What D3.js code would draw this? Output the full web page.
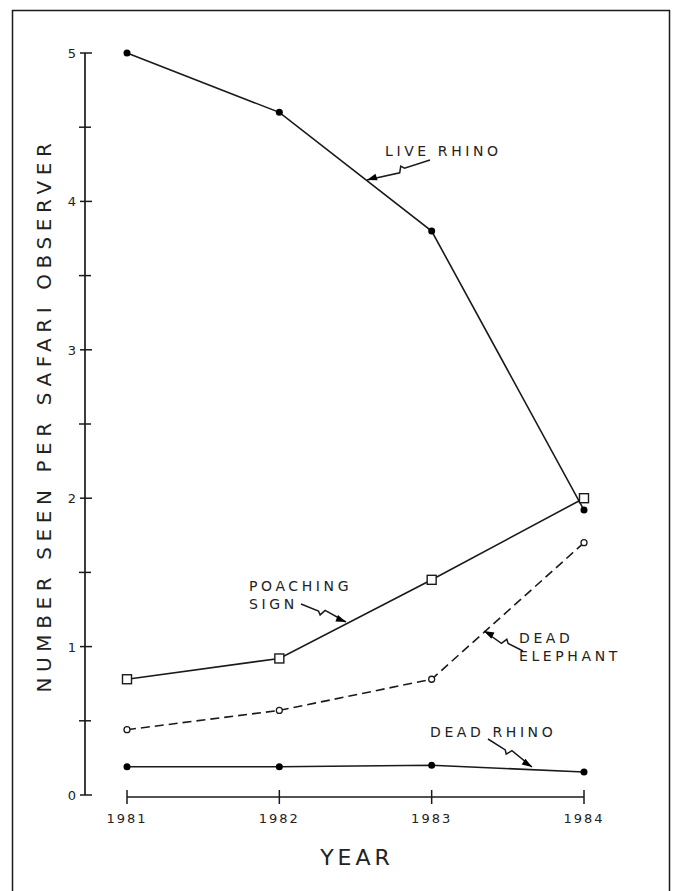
<!DOCTYPE html>
<html><head><meta charset="utf-8">
<script src="https://cdn.jsdelivr.net/npm/d3@7"></script>
<style>html,body{margin:0;padding:0;background:#fff;}svg{display:block;}</style>
</head><body>
<script>
const years = [1981, 1982, 1983, 1984];
const liveRhino = [5.0, 4.60, 3.80, 1.92];
const poachingSign = [0.78, 0.92, 1.45, 2.0];
const deadElephant = [0.44, 0.57, 0.78, 1.70];
const deadRhino = [0.19, 0.19, 0.20, 0.155];
const yMajorTicks = [0, 1, 2, 3, 4, 5];
const yMinorTicks = [0.5, 1.5, 2.5, 3.5, 4.5];

const W = 675, H = 891;
const ink = "#1a1a1a";
const svg = d3.select("body").append("svg").attr("width", W).attr("height", H);
svg.append("rect").attr("width", W).attr("height", H).attr("fill", "#fff");
svg.append("rect").attr("x", 12.5).attr("y", 10.5).attr("width", 657).attr("height", 900)
  .attr("fill", "none").attr("stroke", ink).attr("stroke-width", 1.5);

const x = d3.scaleLinear().domain([1981, 1984]).range([127, 584]);
const y = d3.scaleLinear().domain([0, 5]).range([795, 53]);
const font = "'DejaVu Sans', sans-serif";
const txt = "#222";

// Y axis
const yAxisX = 85;
svg.append("line").attr("x1", yAxisX).attr("x2", yAxisX).attr("y1", y(0)).attr("y2", y(5))
  .attr("stroke", ink).attr("stroke-width", 1.7);
svg.selectAll(".ymaj").data(yMajorTicks).enter().append("line")
  .attr("x1", yAxisX - 5).attr("x2", yAxisX + 7).attr("y1", d => y(d)).attr("y2", d => y(d))
  .attr("stroke", ink).attr("stroke-width", 1.5);
svg.selectAll(".ymin").data(yMinorTicks).enter().append("line")
  .attr("x1", yAxisX - 6).attr("x2", yAxisX + 6).attr("y1", d => y(d)).attr("y2", d => y(d))
  .attr("stroke", ink).attr("stroke-width", 1.5);
svg.selectAll(".ylab").data(yMajorTicks).enter().append("text")
  .attr("x", yAxisX - 9).attr("y", d => y(d) + 5).attr("text-anchor", "end")
  .attr("font-family", font).attr("font-size", 13).attr("fill", txt).text(d => d);

// X axis
const xAxisY = 797;
svg.append("line").attr("x1", x(1981)).attr("x2", x(1984)).attr("y1", xAxisY).attr("y2", xAxisY)
  .attr("stroke", ink).attr("stroke-width", 1.7);
svg.selectAll(".xt").data(years).enter().append("line")
  .attr("x1", d => x(d)).attr("x2", d => x(d)).attr("y1", xAxisY - 7).attr("y2", xAxisY + 7)
  .attr("stroke", ink).attr("stroke-width", 1.5);
svg.selectAll(".xl").data(years).enter().append("text")
  .attr("x", d => x(d)).attr("y", 823).attr("text-anchor", "middle")
  .attr("font-family", font).attr("font-size", 13).attr("letter-spacing", 2).attr("fill", txt).text(d => d);

// Titles
svg.append("text").attr("x", 357).attr("y", 865).attr("text-anchor", "middle")
  .attr("font-family", font).attr("font-size", 22).attr("letter-spacing", 4).attr("fill", txt).text("YEAR");
svg.append("text").attr("transform", "translate(51,415) rotate(-90)").attr("text-anchor", "middle")
  .attr("font-family", font).attr("font-size", 20).attr("letter-spacing", 5.6).attr("fill", txt)
  .text("NUMBER SEEN PER SAFARI OBSERVER");

// Series
const line = d3.line().x(d => x(d[0])).y(d => y(d[1]));
function series(vals, dash) {
  const pts = years.map((yr, i) => [yr, vals[i]]);
  svg.append("path").datum(pts).attr("d", line).attr("fill", "none")
    .attr("stroke", ink).attr("stroke-width", 1.6).attr("stroke-dasharray", dash || null);
  return pts;
}
const lr = series(liveRhino);
svg.selectAll(".lr").data(lr).enter().append("circle")
  .attr("cx", d => x(d[0])).attr("cy", d => y(d[1])).attr("r", 3.5).attr("fill", "#000");
const ps = series(poachingSign);
svg.selectAll(".ps").data(ps).enter().append("rect")
  .attr("x", d => x(d[0]) - 4.5).attr("y", d => y(d[1]) - 4.5).attr("width", 9).attr("height", 9)
  .attr("fill", "#fff").attr("stroke", ink).attr("stroke-width", 1.4);
const de = series(deadElephant, "9,5");
svg.selectAll(".de").data(de).enter().append("circle")
  .attr("cx", d => x(d[0])).attr("cy", d => y(d[1])).attr("r", 3).attr("fill", "#fff")
  .attr("stroke", ink).attr("stroke-width", 1.3);
const dr = series(deadRhino);
svg.selectAll(".dr").data(dr).enter().append("circle")
  .attr("cx", d => x(d[0])).attr("cy", d => y(d[1])).attr("r", 3.5).attr("fill", "#000");

// Annotations
function label(lines, x0, y0) {
  lines.forEach((t, i) => svg.append("text").attr("x", x0).attr("y", y0 + i * 18)
    .attr("font-family", font).attr("font-size", 14).attr("letter-spacing", 3.6).attr("fill", txt).text(t));
}
function arrow(x1, y1, x2, y2) {
  const dx = x2 - x1, dy = y2 - y1, L = Math.hypot(dx, dy);
  const ux = dx / L, uy = dy / L, nx = -uy, ny = ux;
  const m = 0.45;
  const mx = x1 + dx * m, my = y1 + dy * m;
  const p = `M${x1},${y1} L${mx - ux * 3},${my - uy * 3} L${mx + nx * 3},${my + ny * 3} L${mx + ux * 3 - nx * 3},${my + uy * 3 - ny * 3} L${x2},${y2}`;
  svg.append("path").attr("d", p).attr("fill", "none").attr("stroke", ink).attr("stroke-width", 1.5);
  const hl = 10, hw = 3.5;
  const bx = x2 - ux * hl, by = y2 - uy * hl;
  svg.append("path").attr("d", `M${x2},${y2} L${bx + nx * hw},${by + ny * hw} L${bx - nx * hw},${by - ny * hw} Z`)
    .attr("fill", "#000");
}
label(["LIVE RHINO"], 385, 156);
arrow(430, 160, 367, 180);
label(["POACHING", "SIGN"], 249, 591);
arrow(301, 604, 346, 622);
label(["DEAD", "ELEPHANT"], 519, 643);
arrow(523, 651, 484, 631);
label(["DEAD RHINO"], 430, 737);
arrow(488, 739, 532, 767);
</script>
</body></html>
